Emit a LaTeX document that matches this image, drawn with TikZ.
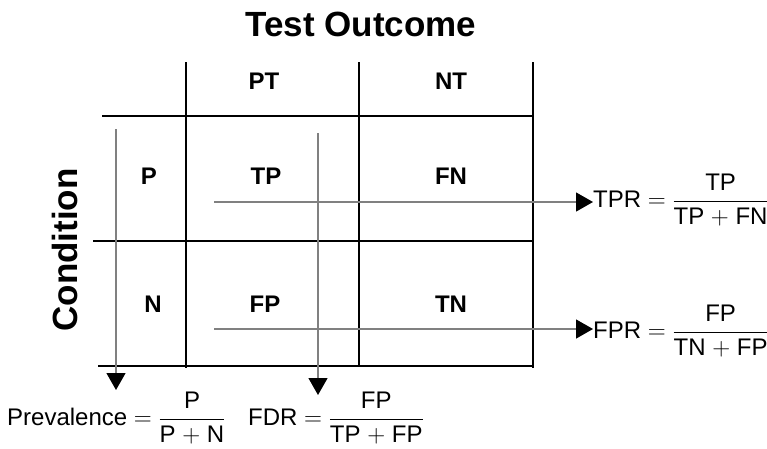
\documentclass[tikz,border=0pt]{standalone}
\usepackage{fontspec}
\setmainfont{Liberation Sans}
\usetikzlibrary{arrows.meta}
\newcommand\myfr[2]{$\displaystyle\frac{\mbox{#1}}{\mbox{#2}}$}
\begin{document}
\begin{tikzpicture}[x=1pt,y=-1pt,
  gridline/.style={line width=2pt,black},
  flow/.style={line width=1.3pt,draw=black!50,-{Triangle[length=17pt,width=19pt,color=black,fill=black]}},
  head/.style={font=\bfseries\fontsize{24}{28}\selectfont,inner sep=0pt},
  big/.style={font=\bfseries\fontsize{35}{40}\selectfont,inner sep=0pt},
  formula/.style={font=\fontsize{24}{29}\selectfont,inner sep=0pt,anchor=west}]
\useasboundingbox (0,0) rectangle (767,448);
% grid
\draw[gridline] (186,62) -- (186,368);
\draw[gridline] (359,62) -- (359,367);
\draw[gridline] (533,62) -- (533,368);
\draw[gridline] (102,116) -- (533,116);
\draw[gridline] (93,241) -- (533,241);
\draw[gridline] (98,366) -- (533,366);
% titles
\node[big] (title) at (361,24) {Test Outcome};
\node[big,rotate=90] (cond) at (65,250) {Condition};
% headers
\node[head] (pt) at (264,81) {PT};
\node[head] (nt) at (451,81) {NT};
\node[head] (p) at (149,176) {P};
\node[head] (n) at (153,304) {N};
\node[head] (tp) at (266,176) {TP};
\node[head] (fn) at (451,176) {FN};
\node[head] (fp) at (265,304) {FP};
\node[head] (tn) at (451,304) {TN};
% formulas
\node[formula] (tpr) at (593,200) {TPR $=$ \myfr{TP}{TP $+$ FN}};
\node[formula] (fpr) at (593,331) {FPR $=$ \myfr{FP}{TN $+$ FP}};
\node[formula] (prev) at (7,418) {Prevalence $=$ \myfr{P}{P $+$ N}};
\node[formula] (fdr) at (248,418) {FDR $=$ \myfr{FP}{TP $+$ FP}};
% arrows
\coordinate (a1) at (116,129);
\coordinate (a1e) at (116,390);
\coordinate (a2) at (318,133);
\coordinate (a2e) at (318,395);
\coordinate (h1) at (214,202);
\coordinate (h2) at (214,329);
\draw[flow] (a1) -- (a1e);
\draw[flow] (a2) -- (a2e);
\draw[flow] (h1) -- (h1 -| tpr.west);
\draw[flow] (h2) -- (h2 -| fpr.west);
\end{tikzpicture}
\end{document}
